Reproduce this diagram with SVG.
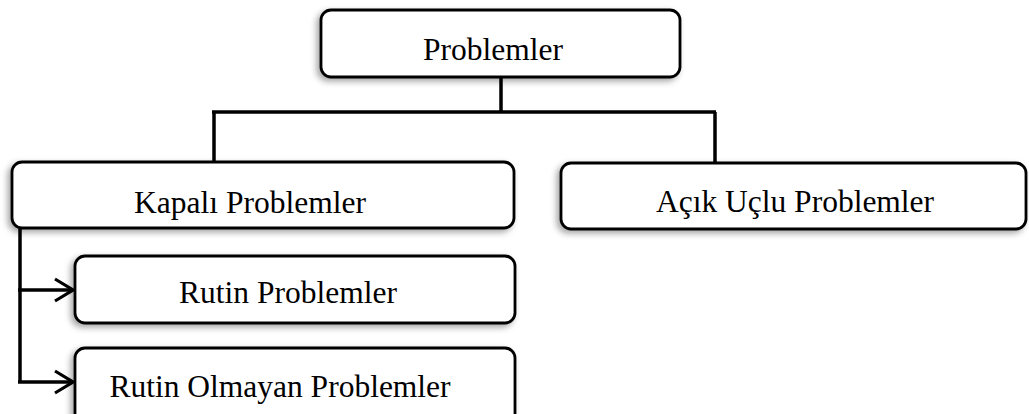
<svg xmlns="http://www.w3.org/2000/svg" width="1029" height="414" viewBox="0 0 1029 414">
  <defs>
    <filter id="shadow" x="-10%" y="-30%" width="120%" height="160%">
      <feDropShadow dx="-3" dy="3" stdDeviation="3" flood-color="#000" flood-opacity="0.35"/>
    </filter>
    <marker id="arrow" viewBox="0 0 22 26" refX="20" refY="13" markerWidth="22" markerHeight="26" markerUnits="userSpaceOnUse" orient="auto">
      <path d="M2,2 L20,13 L2,24" fill="none" stroke="#000" stroke-width="3.2" stroke-linejoin="miter"/>
    </marker>
    <style>
      .box { fill: #fff; stroke: #000; stroke-width: 2.8; filter: url(#shadow); }
      .label { font-family: "Liberation Serif", "Times New Roman", serif; font-size: 31.5px; fill: #000; }
      .wire { fill: none; stroke: #000; stroke-width: 3.5; }
    </style>
  </defs>

  <g id="connectors">
    <path class="wire" d="M501,77 V112 M212,112 H716 M214,112 V162 M715,112 V163"/>
    <path class="wire" d="M20,228 V382"/>
    <path class="wire" d="M18,290 H73" marker-end="url(#arrow)"/>
    <path class="wire" d="M18,382 H73" marker-end="url(#arrow)"/>
  </g>

  <g id="problemler">
    <rect class="box" x="321" y="10" width="359" height="67" rx="10"/>
    <text class="label" x="493" y="60" text-anchor="middle">Problemler</text>
  </g>

  <g id="kapali">
    <rect class="box" x="12" y="162" width="502" height="66" rx="10"/>
    <text class="label" x="250" y="213" text-anchor="middle">Kapalı Problemler</text>
  </g>

  <g id="acik-uclu">
    <rect class="box" x="561" y="163" width="465" height="66" rx="10"/>
    <text class="label" x="795" y="212" text-anchor="middle">Açık Uçlu Problemler</text>
  </g>

  <g id="rutin">
    <rect class="box" x="75" y="256" width="440" height="67" rx="10"/>
    <text class="label" x="288" y="303" text-anchor="middle">Rutin Problemler</text>
  </g>

  <g id="rutin-olmayan">
    <rect class="box" x="75" y="348" width="440" height="80" rx="10"/>
    <text class="label" x="280" y="397" text-anchor="middle">Rutin Olmayan Problemler</text>
  </g>
</svg>
